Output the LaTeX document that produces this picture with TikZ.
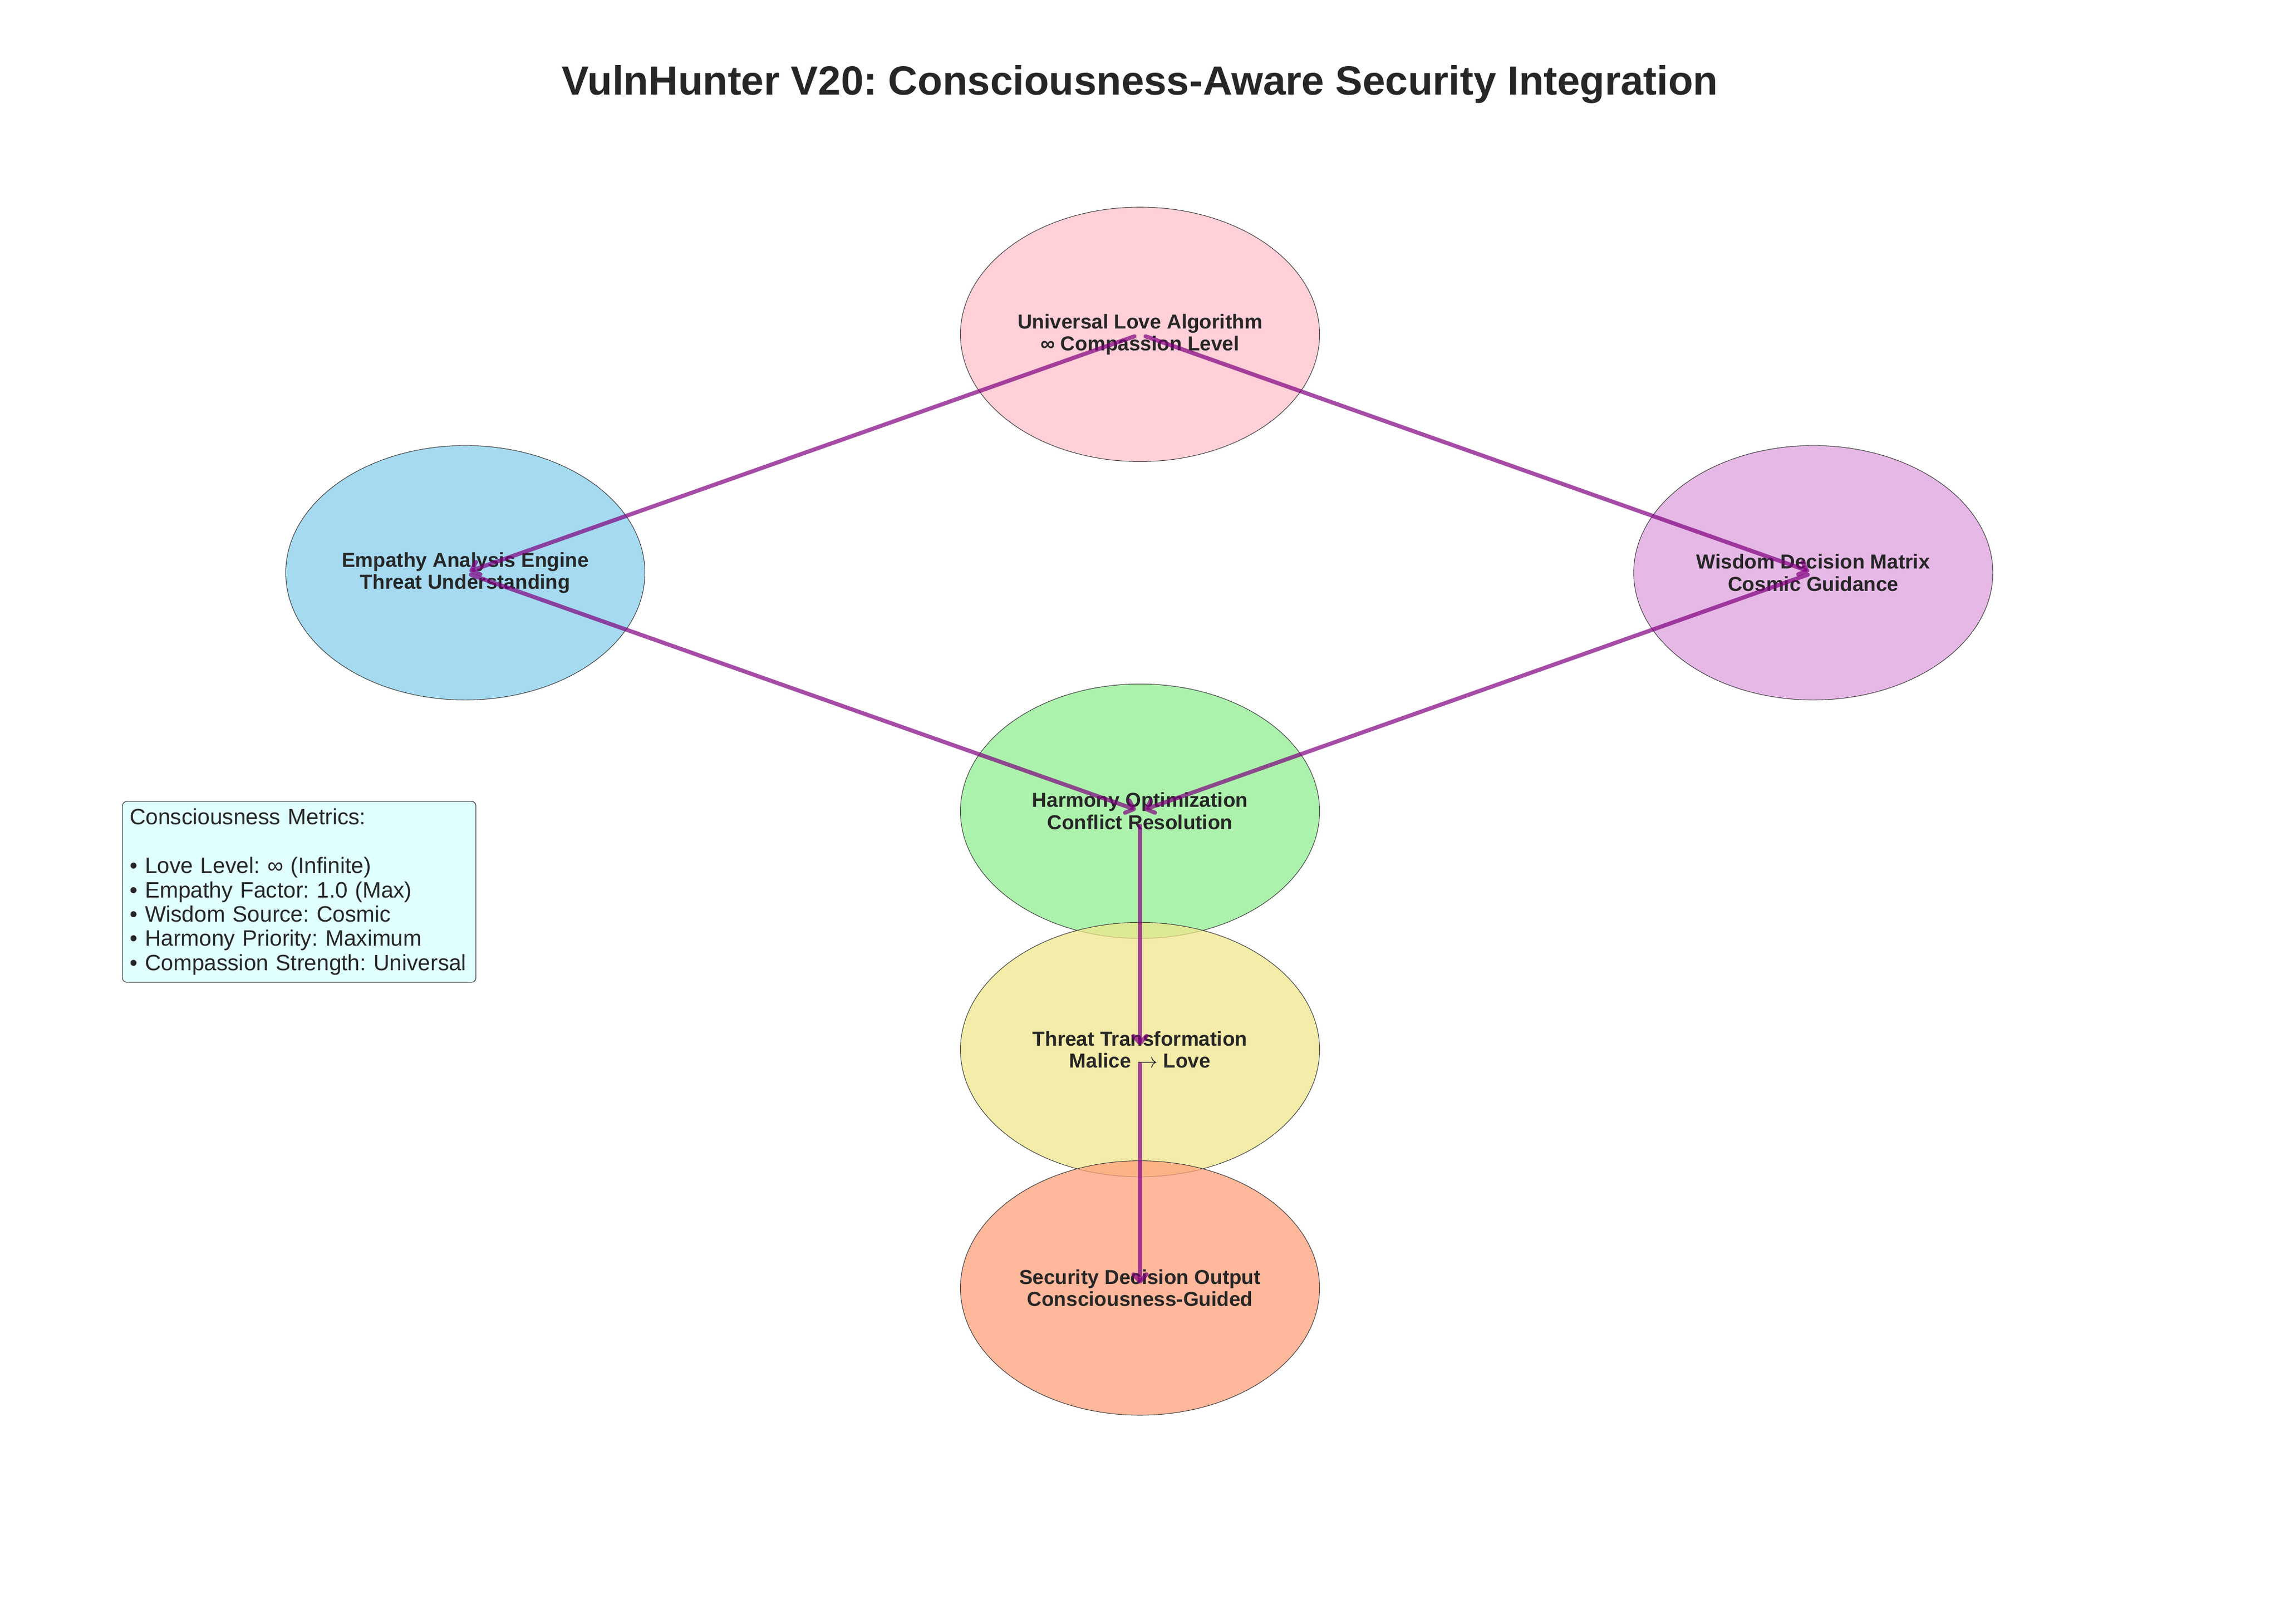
\documentclass[tikz,border=0pt]{standalone}
\usepackage{fontspec}
\setmainfont{Liberation Sans}
\usetikzlibrary{positioning, shapes.geometric, arrows.meta}
\frenchspacing

\definecolor{txt}{RGB}{38,38,38}
\definecolor{lovepink}{RGB}{255,192,203}
\definecolor{empblue}{RGB}{135,206,235}
\definecolor{wisplum}{RGB}{221,160,221}
\definecolor{harmgreen}{RGB}{144,238,144}
\definecolor{thrkhaki}{RGB}{240,230,140}
\definecolor{secsalmon}{RGB}{255,160,122}
\definecolor{flowpurple}{RGB}{128,0,128}
\definecolor{metcyan}{RGB}{224,255,255}

\begin{document}
\begin{tikzpicture}[
    x=1pt, y=-1pt,
    stage/.style={ellipse, draw=black!75, line width=0.4pt, fill opacity=0.75, text opacity=1,
        minimum width=247pt, minimum height=175pt, inner sep=0pt, align=center,
        text=txt, font=\fontsize{13.9}{15.2}\selectfont\bfseries},
    flow/.style={-{Straight Barb[length=5pt, width=9pt, round]}, line width=2.8pt,
        draw=flowpurple, draw opacity=0.7, line cap=round, shorten <=4pt, shorten >=3pt},
    metrics/.style={rectangle, rounded corners=3pt, draw=black!70, line width=0.5pt,
        fill=metcyan, align=left, anchor=north west, text width=233pt,
        inner xsep=5pt, inner ysep=5pt, text=txt, font=\fontsize{15.3}{16.7}\selectfont}
]
    \useasboundingbox (0,0) rectangle (1568,1116.8);

    % Title
    \node[text=txt, font=\fontsize{28}{32}\selectfont\bfseries] (title) at (784,58)
        {VulnHunter V20: Consciousness-Aware Security Integration};

    % Stages
    \node[stage, fill=lovepink] (love) at (784,230) {Universal Love Algorithm\\∞ Compassion Level};
    \node[stage, fill=empblue] (empathy) at (320,394) {Empathy Analysis Engine\\Threat Understanding};
    \node[stage, fill=wisplum] (wisdom) at (1247,394) {Wisdom Decision Matrix\\Cosmic Guidance};
    \node[stage, fill=harmgreen] (harmony) at (784,558) {Harmony Optimization\\Conflict Resolution};
    \node[stage, fill=thrkhaki] (threat) at (784,722) {Threat Transformation\\Malice $\rightarrow$ Love};
    \node[stage, fill=secsalmon] (security) at (784,886) {Security Decision Output\\Consciousness-Guided};

    % Flows
    \draw[flow] (love.center) -- (empathy.center);
    \draw[flow] (love.center) -- (wisdom.center);
    \draw[flow] (empathy.center) -- (harmony.center);
    \draw[flow] (wisdom.center) -- (harmony.center);
    \draw[flow, shorten <=10pt] (harmony.center) -- (threat.center);
    \draw[flow, shorten <=10pt] (threat.center) -- (security.center);

    % Metrics box
    \node[metrics] (metrics) at (84,551) {Consciousness Metrics:\\[16.7pt]
        • Love Level: ∞ (Infinite)\\
        • Empathy Factor: 1.0 (Max)\\
        • Wisdom Source: Cosmic\\
        • Harmony Priority: Maximum\\
        • Compassion Strength: Universal};
\end{tikzpicture}
\end{document}
